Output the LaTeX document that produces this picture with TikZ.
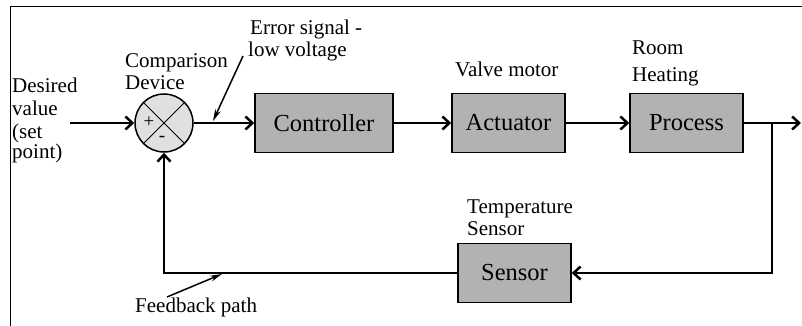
\documentclass[tikz,border=0pt]{standalone}
\usepackage{fontspec}
\setmainfont{Liberation Serif}
\usetikzlibrary{arrows.meta}
\begin{document}
\begin{tikzpicture}[x=1pt,y=-1pt,
  lbl/.style={anchor=base west, inner sep=0pt, font=\fontsize{21}{23}\selectfont},
  blk/.style={draw, line width=1.5pt, fill=black!30, minimum width=113pt, minimum height=59pt, inner sep=0pt, font=\fontsize{24.5}{26}\selectfont},
  sig/.style={line width=2.5pt, -{Straight Barb[length=7pt,width=13pt]}},
  ptr/.style={line width=1.5pt, -{Stealth[length=12pt,width=6pt]}}]
\useasboundingbox (0,0) rectangle (802,326);
\draw[line width=1pt] (10,326) -- (10,7) -- (802,7);
% summing junction
\node[circle, draw, line width=1.5pt, fill=black!12, minimum size=58pt, inner sep=0pt] (sum) at (164,123) {};
\draw[line width=1pt] (sum.north east) -- (sum.south west);
\draw[line width=1pt] (sum.north west) -- (sum.south east);
\node[inner sep=0pt, font=\fontsize{19}{19}\selectfont] (plus) at (149,122) {+};
\node[inner sep=0pt, font=\fontsize{19}{19}\selectfont] (minus) at (162,139) {-};
% blocks
\node[blk, minimum width=138pt] (ctrl) at (324,123) {Controller};
\node[blk] (act) at (508.5,123) {Actuator};
\node[blk] (proc) at (686.5,123) {Process};
\node[blk] (sens) at (514.5,273) {Sensor};
% labels
\node[lbl] (l1) at (12,93) {Desired};
\node[lbl] (l2) at (12,116) {value};
\node[lbl] (l3) at (12,138) {(set};
\node[lbl] (l4) at (12,158) {point)};
\node[lbl] (c1) at (125,68) {Comparison};
\node[lbl] (c2) at (125,90) {Device};
\node[lbl] (e1t) at (250,35) {Error signal -};
\node[lbl] (e2t) at (248,57) {low voltage};
\node[lbl] (vm) at (455,77) {Valve motor};
\node[lbl] (rm) at (632,55) {Room};
\node[lbl] (ht) at (632,82) {Heating};
\node[lbl] (tp) at (467,213) {Temperature};
\node[lbl] (sn) at (467,235) {Sensor};
\node[lbl] (fb) at (135,312) {Feedback path};
% connectors
\coordinate (in) at (70,123);
\coordinate (out) at (801,123);
\coordinate (br) at (772,123);
\draw[sig] (in) -- (sum.west);
\draw[sig] (sum.east) -- (ctrl.west);
\draw[sig] (ctrl.east) -- (act.west);
\draw[sig] (act.east) -- (proc.west);
\draw[sig] (proc.east) -- (out);
\draw[sig] (br) |- (sens.east);
\draw[sig] (sens.west) -| (sum.south);
% pointers
\coordinate (ep1) at (243,56);
\coordinate (ep2) at (213,121);
\coordinate (fp1) at (167,297);
\coordinate (fp2) at (222,274);
\draw[ptr] (ep1) -- (ep2);
\draw[ptr] (fp1) -- (fp2);
\end{tikzpicture}
\end{document}
